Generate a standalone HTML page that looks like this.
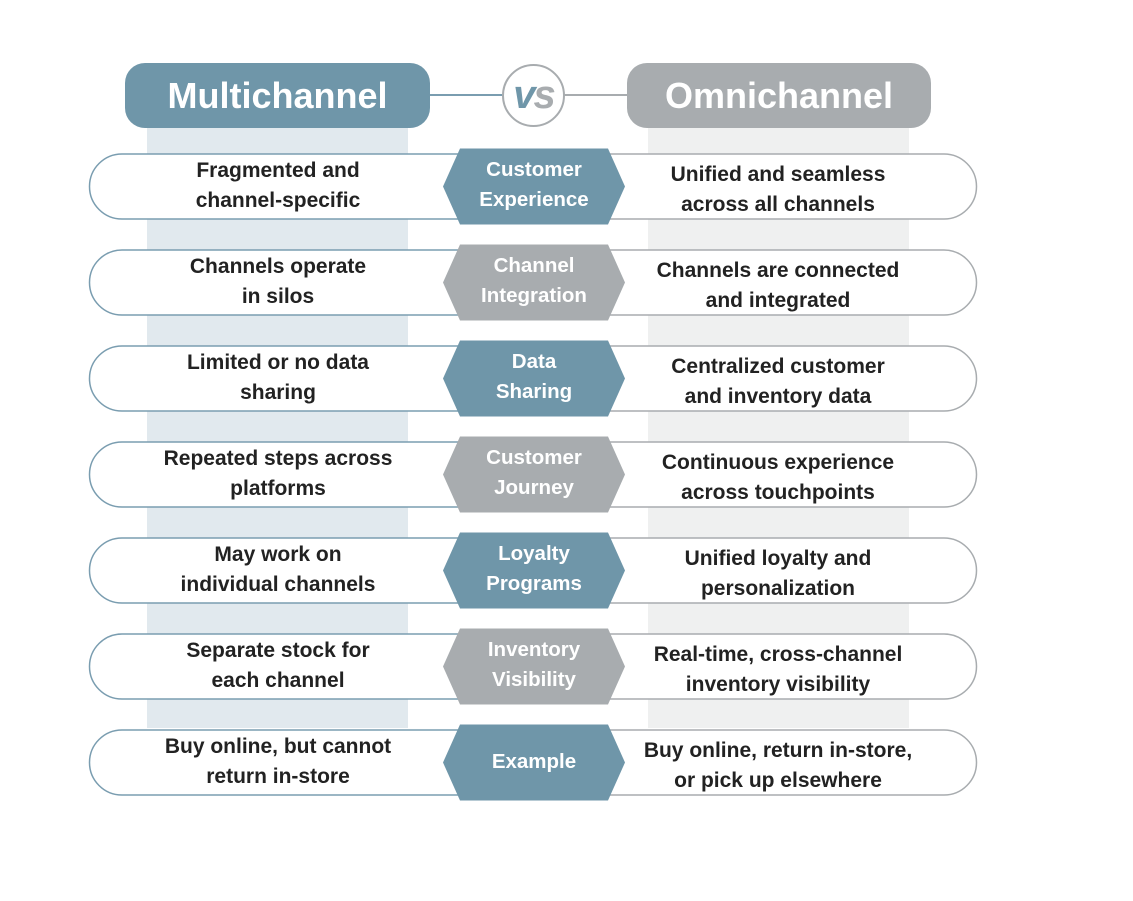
<!DOCTYPE html>
<html><head><style>
body{margin:0;width:1133px;height:901px;background:#fff;position:relative;overflow:hidden;font-family:"Liberation Sans",sans-serif;}
.a{position:absolute;}
.t{position:absolute;font-weight:bold;font-size:21px;line-height:30px;color:#222;text-align:center;}
.h{position:absolute;font-weight:bold;font-size:20.5px;line-height:30px;color:#fff;text-align:center;width:182px;left:443px;}
</style></head><body>
<div class="a" style="left:147px;top:120px;width:261px;height:608px;background:#e1e9ee"></div>
<div class="a" style="left:648px;top:120px;width:261px;height:608px;background:#eff0f0"></div>
<div class="a" style="left:430px;top:94px;width:72px;height:2px;background:#7a9db0"></div>
<div class="a" style="left:564px;top:94px;width:64px;height:2px;background:#a8acaf"></div>
<div class="a" style="left:125px;top:63px;width:305px;height:65px;border-radius:20px;background:#6f96a9;color:#fff;font-weight:bold;font-size:36px;line-height:65px;text-align:center">Multichannel</div>
<div class="a" style="left:627px;top:63px;width:304px;height:65px;border-radius:20px;background:#a8acaf;color:#fff;font-weight:bold;font-size:36px;line-height:65px;text-align:center">Omnichannel</div>
<div class="a" style="left:502px;top:64px;width:59px;height:59px;border-radius:50%;border:2px solid #a8acaf;background:#fff;text-align:center;line-height:59px;font-size:40px;font-weight:bold;font-style:italic;letter-spacing:-2px"><span style="color:#6f96a9">v</span><span style="color:#a8acaf">s</span></div>
<svg class="a" style="left:0;top:0" width="1133" height="901">
<g id="rows"></g>
</svg>
<div id="c"></div>
<script>
var rows=[["Fragmented and<br>channel-specific","Customer<br>Experience","Unified and seamless<br>across all channels"],
["Channels operate<br>in silos","Channel<br>Integration","Channels are connected<br>and integrated"],
["Limited or no data<br>sharing","Data<br>Sharing","Centralized customer<br>and inventory data"],
["Repeated steps across<br>platforms","Customer<br>Journey","Continuous experience<br>across touchpoints"],
["May work on<br>individual channels","Loyalty<br>Programs","Unified loyalty and<br>personalization"],
["Separate stock for<br>each channel","Inventory<br>Visibility","Real-time, cross-channel<br>inventory visibility"],
["Buy online, but cannot<br>return in-store","Example","Buy online, return in-store,<br>or pick up elsewhere"]];
var s="",h="";
rows.forEach(function(r,i){
var y=154+i*96,c=y+32.5,blue=i%2==0,col=blue?"#6f96a9":"#a8acaf";
s+='<path d="M460,'+y+' H122 A32.5,32.5 0 0 0 122,'+(y+65)+' H460" fill="#fff" stroke="#7a9db0" stroke-width="1.5"/>';
s+='<path d="M608,'+y+' H944 A32.5,32.5 0 0 1 944,'+(y+65)+' H608" fill="#fff" stroke="#a8acaf" stroke-width="1.5"/>';
s+='<polygon points="443,'+c+' 460,'+(c-38)+' 608,'+(c-38)+' 625,'+c+' 608,'+(c+38)+' 460,'+(c+38)+'" fill="'+col+'"/>';
h+='<div class="t" style="left:130px;width:296px;top:'+(y+2)+'px">'+r[0]+'</div>';
h+='<div class="t" style="left:620px;width:316px;top:'+(y+6)+'px">'+r[2]+'</div>';
h+='<div class="h" style="top:'+(r[1].indexOf("<br>")>0?y+1:y+17)+'px">'+r[1]+'</div>';
});
document.getElementById("rows").innerHTML=s;
document.getElementById("c").innerHTML=h;
</script>
</body></html>
